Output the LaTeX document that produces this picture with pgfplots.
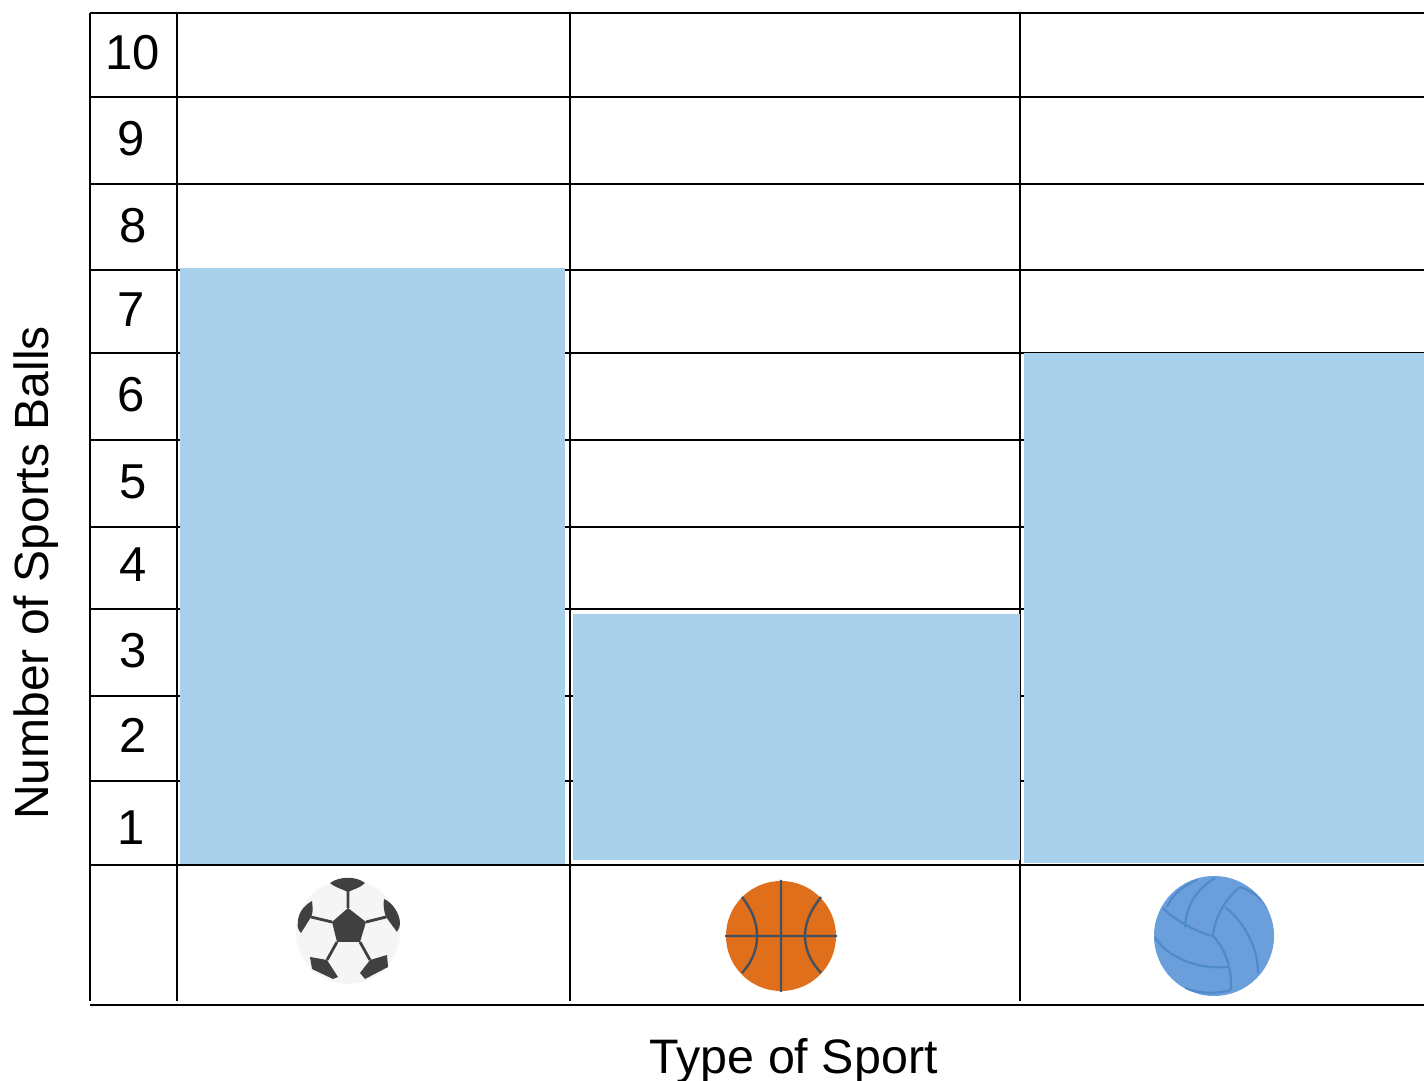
\documentclass[border=0pt]{standalone}
\usepackage{fontspec}
\setmainfont{Liberation Sans}
\usepackage{pgfplots}
\pgfplotsset{compat=1.18}
\definecolor{barblue}{HTML}{A8D0EA}
\definecolor{ballgrey}{HTML}{404040}
\definecolor{ballorange}{HTML}{DF6F1A}
\definecolor{seam}{HTML}{46505F}
\definecolor{vball}{HTML}{6A9FDB}
\definecolor{vseam}{HTML}{4F8BCB}
\begin{document}
\begin{tikzpicture}
\begin{axis}[
    at={(0,0)},
    scale only axis,
    width=667pt,
    height=496pt,
    xmin=90, xmax=1424,
    ymin=-1.643, ymax=10,
    axis x line*=box,
    axis y line*=left,
    y axis line style={draw=none},
    axis line style={line width=1pt},
    clip=false,
    xtick=\empty,
    ytick={0.44,1.52,2.52,3.52,4.50,5.52,6.52,7.51,8.52,9.53},
    yticklabels={1\kern2pt,2,3,4,5,6\kern2pt,7\kern2pt,8,9\kern2pt,10},
    major tick length=0pt,
    yticklabel style={anchor=center, xshift=21.5pt, font=\fontsize{24.5pt}{29pt}\selectfont},
    xlabel={Type of Sport},
    ylabel={Number of Sports Balls},
    xlabel style={at={(axis description cs:0.5275,-0.0565)}, anchor=center, font=\fontsize{24.2pt}{28pt}\selectfont},
    ylabel style={at={(axis description cs:-0.0405,0.4355)}, anchor=center, font=\fontsize{24pt}{28pt}\selectfont},
    unbounded coords=jump,
]
% row lines
\addplot[black, line width=1pt] table[row sep=\\] {
x y\\
90 9.01\\ 1424 9.01\\ 90 nan\\
90 7.99\\ 1424 7.99\\ 90 nan\\
90 6.98\\ 1424 6.98\\ 90 nan\\
90 6.01\\ 1424 6.01\\ 90 nan\\
90 4.99\\ 1424 4.99\\ 90 nan\\
90 3.97\\ 1424 3.97\\ 90 nan\\
90 3.00\\ 1424 3.00\\ 90 nan\\
90 1.98\\ 1424 1.98\\ 90 nan\\
90 0.99\\ 1424 0.99\\ 90 nan\\
90 0\\ 1424 0\\
};
% column lines
\addplot[black, line width=1pt] table[row sep=\\] {
x y\\
90 10\\ 90 -1.596\\ 90 nan\\
177 10\\ 177 -1.596\\ 177 nan\\
570 10\\ 570 -1.596\\ 570 nan\\
1020 10\\ 1020 -1.596\\
};
% bars: soccer 7, basketball 3, volleyball 6
\addplot[fill=barblue, draw=none] coordinates {(180,0.01) (180,7.01) (565,7.01) (565,0.01)} -- cycle;
\addplot[fill=barblue, draw=none] coordinates {(573,0.06) (573,2.95) (1020,2.95) (1020,0.06)} -- cycle;
\addplot[fill=barblue, draw=none] coordinates {(1024,0.02) (1024,6.01) (1424,6.01) (1424,0.02)} -- cycle;
\end{axis}
% icons, in reference pixels
\begin{scope}[x=0.5pt, y=-0.5pt, shift={(-45pt,502.5pt)}]
  % soccer ball
  \fill[black!4] (348,932) circle (52);
  \draw[ballgrey, line width=1.4pt]
    (348,889)--(348,908) (332,922)--(311,917) (366,922)--(386,917)
    (337,942)--(327,960) (360,942)--(370,960);
  \fill[ballgrey] (348,908)--(366,922)--(360,942)--(337,942)--(332,922)--cycle;
  \fill[ballgrey] (330,883) .. controls (340,876) and (356,876) .. (365,883)
    .. controls (360,888) and (354,889) .. (348,892)
    .. controls (342,889) and (336,888) .. (330,883) -- cycle;
  \fill[ballgrey] (312,901) .. controls (313,910) and (313,913) .. (311,917)
    -- (301,933) .. controls (298,930) and (297,926) .. (298,922)
    .. controls (298,914) and (303,906) .. (312,901) -- cycle;
  \fill[ballgrey] (384,899) .. controls (393,903) and (399,913) .. (400,922)
    .. controls (400,926) and (399,929) .. (397,932)
    -- (386,917) .. controls (384,912) and (383,905) .. (384,899) -- cycle;
  \fill[ballgrey] (310,957)--(327,960)--(338,977)--(333,979)--(312,969)--cycle;
  \fill[ballgrey] (387,955)--(388,967)--(365,979)--(360,973)--(370,960)--cycle;
  % basketball
  \fill[ballorange] (781,936) circle (55);
  \draw[seam, line width=1.2pt]
    (781,880)--(781,992) (725,936)--(837,936)
    (742,897) .. controls (752,910) and (757,922) .. (757,936)
              .. controls (757,950) and (752,962) .. (742,973)
    (821,897) .. controls (811,910) and (805,922) .. (805,936)
              .. controls (805,950) and (811,962) .. (821,973);
  % volleyball
  \fill[vball] (1214,936) circle (60);
  \begin{scope}
  \clip (1214,936) circle (60);
  \draw[vseam, line width=1.1pt]
    (1163,908) .. controls (1172,918) and (1195,932) .. (1213,936)
    (1185,927) .. controls (1186,905) and (1198,888) .. (1215,878)
    (1167,907) .. controls (1172,895) and (1184,885) .. (1197,880)
    (1213,936) .. controls (1214,918) and (1226,898) .. (1240,887)
    (1225,907) .. controls (1242,920) and (1258,945) .. (1258,973)
    (1240,887) .. controls (1250,890) and (1262,898) .. (1268,908)
    (1213,936) .. controls (1224,948) and (1232,965) .. (1231,990)
    (1155,937) .. controls (1165,955) and (1195,970) .. (1228,967)
    (1185,988) .. controls (1200,994) and (1218,994) .. (1231,990);
  \end{scope}
\end{scope}
\pgfresetboundingbox
\path[use as bounding box] (-45pt,-38pt) rectangle (667pt,502.5pt);
\end{tikzpicture}
\end{document}
